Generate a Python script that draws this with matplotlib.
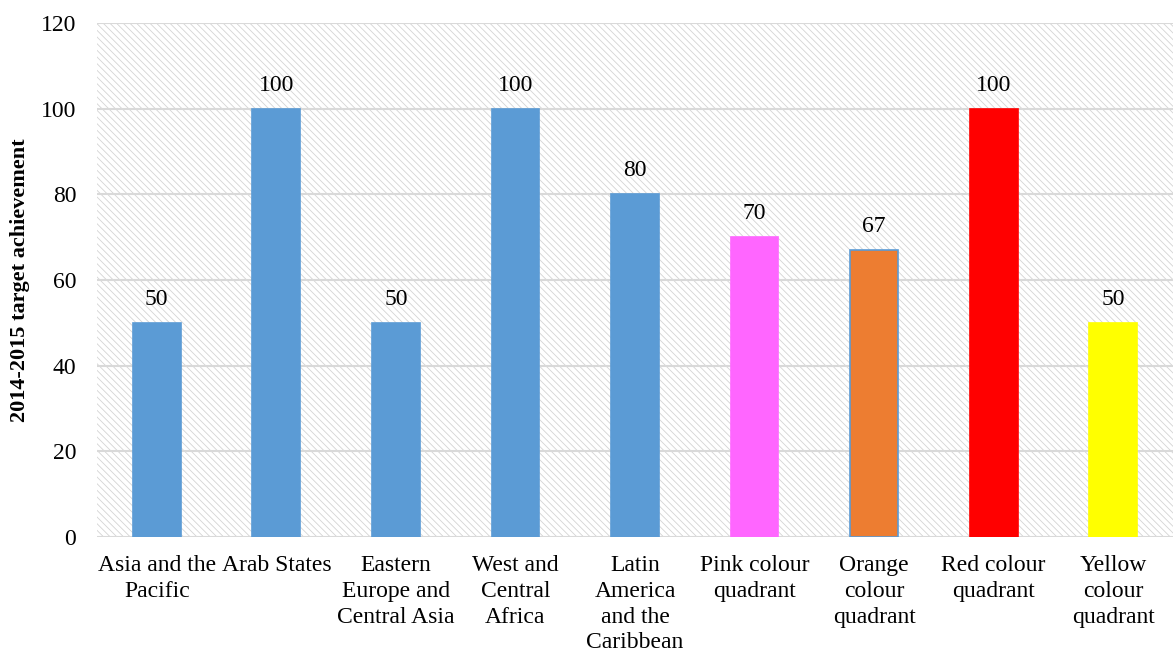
import matplotlib
matplotlib.use("Agg")
import matplotlib.pyplot as plt

plt.rcParams['font.family'] = ['Liberation Serif', 'DejaVu Serif']
plt.rcParams['hatch.linewidth'] = 0.6
plt.rcParams['hatch.color'] = '#d4d4d4'

categories = ["Asia and the\nPacific", "Arab States", "Eastern\nEurope and\nCentral Asia",
              "West and\nCentral\nAfrica", "Latin\nAmerica\nand the\nCaribbean",
              "Pink colour\nquadrant", "Orange\ncolour\nquadrant", "Red colour\nquadrant",
              "Yellow\ncolour\nquadrant"]
values = [50, 100, 50, 100, 80, 70, 67, 100, 50]
labels = ["50", "100", "50", "100", "80", "70", "67", "100", "50"]
colors = ["#5b9bd5"] * 5 + ["#ff66ff", "#ed7d31", "#ff0000", "#ffff00"]
edges = ["#5b9bd5"] * 5 + ["#ff66ff", "#5b9bd5", "#ff0000", "#ffff00"]

fig = plt.figure(figsize=(11.73, 6.57), dpi=100)
ax = fig.add_axes([0.0827, 0.1826, 0.9173, 0.7824])

# hatched background
ax.patch.set_facecolor('white')
ax.patch.set_hatch('\\\\\\\\\\')
ax.patch.set_edgecolor('#d4d4d4')
ax.patch.set_linewidth(0)

x = range(len(values))
bars = ax.bar(x, values, width=0.4, color=colors, edgecolor=edges, linewidth=1.2, zorder=3)
for xi, v, lab in zip(x, values, labels):
    ax.text(xi, v + 3, lab, ha='center', va='bottom', fontsize=17)

ax.set_xlim(-0.5, len(values) - 0.5)
ax.set_ylim(0, 120)
ax.set_yticks(range(0, 121, 20))
ax.yaxis.grid(True, color='#d9d9d9', linewidth=1.5, zorder=1)
ax.set_axisbelow(True)
for s in ax.spines.values():
    s.set_visible(False)
ax.set_xticks(list(x))
ax.set_xticklabels(categories, fontsize=17, linespacing=1.3)
ax.tick_params(axis='both', length=0, labelsize=17)
ax.tick_params(axis='y', pad=15)
ax.tick_params(axis='x', pad=13)
ax.set_ylabel("2014-2015 target achievement", fontsize=16, fontweight='bold', labelpad=8)

fig.savefig("out.png", dpi=100)
